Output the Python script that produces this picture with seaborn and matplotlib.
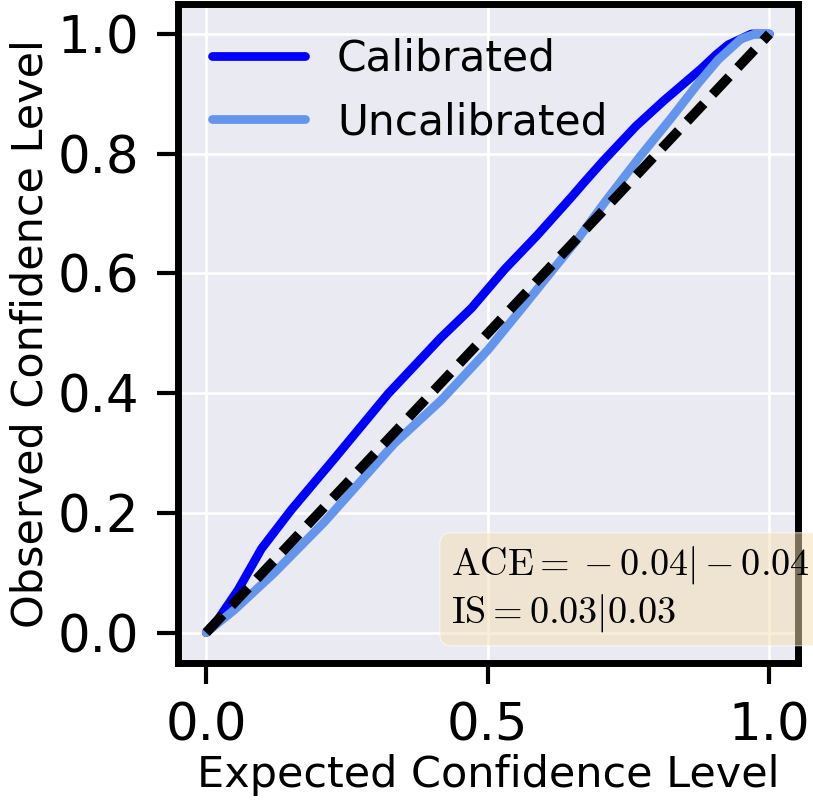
import matplotlib
matplotlib.use("Agg")
import matplotlib.pyplot as plt
import pandas as pd
import seaborn as sns

# values
calibrated_x = [0.0, 0.021, 0.057, 0.098, 0.151, 0.227, 0.323, 0.417, 0.471, 0.50, 0.530,
                0.587, 0.648, 0.671, 0.705, 0.763, 0.813, 0.879, 0.905, 0.927, 0.968, 1.0]
calibrated_y = [0.0, 0.022, 0.072, 0.140, 0.205, 0.290, 0.399, 0.493, 0.542, 0.574, 0.607,
                0.663, 0.727, 0.752, 0.788, 0.846, 0.889, 0.942, 0.965, 0.982, 1.0, 1.0]

uncalibrated_x = [0.0, 0.05, 0.121, 0.21, 0.334, 0.417, 0.50, 0.559, 0.618, 0.661, 0.707,
                  0.770, 0.826, 0.874, 0.909, 0.95, 0.975, 1.0]
uncalibrated_y = [0.0, 0.038, 0.100, 0.185, 0.316, 0.388, 0.472, 0.540, 0.609, 0.659, 0.718,
                  0.795, 0.860, 0.918, 0.957, 0.992, 1.0, 1.0]

labels = ["Calibrated", "Uncalibrated"]
colors = ["blue", "cornflowerblue"]
ace_text = r"$\mathrm{ACE} = {} - 0.04| - 0.04$" + "\n" + r"$\mathrm{IS} = 0.03|0.03$"

df = pd.concat([
    pd.DataFrame({"expected": calibrated_x, "observed": calibrated_y, "model": labels[0]}),
    pd.DataFrame({"expected": uncalibrated_x, "observed": uncalibrated_y, "model": labels[1]}),
])

sns.set_style("darkgrid")
plt.rcParams.update({
    "mathtext.fontset": "cm",
    "text.color": "black",
    "axes.labelcolor": "black",
    "xtick.color": "black",
    "ytick.color": "black",
    "grid.linewidth": 2,
})

fig = plt.figure(figsize=(8.13, 8.08), dpi=100)
ax = fig.add_axes([0.219, 0.180, 0.762, 0.815])

sns.lineplot(
    data=df, x="expected", y="observed", hue="model",
    palette=dict(zip(labels, colors)), sort=False, estimator=None,
    linewidth=6.3, ax=ax,
)
for line in ax.get_lines():
    line.set_solid_capstyle("round")
    line.set_solid_joinstyle("round")
ax.plot([0, 1], [0, 1], color="black", linestyle="--", dashes=(2.5, 1.3), linewidth=7)

ax.set_xlim(-0.05, 1.05)
ax.set_ylim(-0.05, 1.05)
ax.set_xticks([0.0, 0.5, 1.0])
ax.set_yticks([0.0, 0.2, 0.4, 0.6, 0.8, 1.0])
ax.set_xticklabels(["0.0", "0.5", "1.0"])
ax.set_yticklabels(["0.0", "0.2", "0.4", "0.6", "0.8", "1.0"])
ax.tick_params(axis="both", labelsize=37, length=15, width=3, color="black",
               direction="out", bottom=True, left=True, pad=13)
ax.set_xlabel("Expected Confidence Level", fontsize=31, labelpad=2)
ax.set_ylabel("Observed Confidence Level", fontsize=31, labelpad=4)
for spine in ax.spines.values():
    spine.set_visible(True)
    spine.set_color("black")
    spine.set_linewidth(5)

leg = ax.legend(loc="upper left", fontsize=30.5, frameon=False, handlelength=2.2,
                handletextpad=0.75, labelspacing=0.5, borderaxespad=0.4)
for h in leg.get_lines():
    h.set_linewidth(6.3)
    h.set_solid_capstyle("round")

ax.text(0.441, 0.043, ace_text, transform=ax.transAxes, fontsize=27.5,
        ha="left", va="bottom", clip_on=False, zorder=10, linespacing=1.2,
        bbox=dict(boxstyle="round", facecolor="wheat", alpha=0.5))

fig.savefig("out.png", dpi=100)
